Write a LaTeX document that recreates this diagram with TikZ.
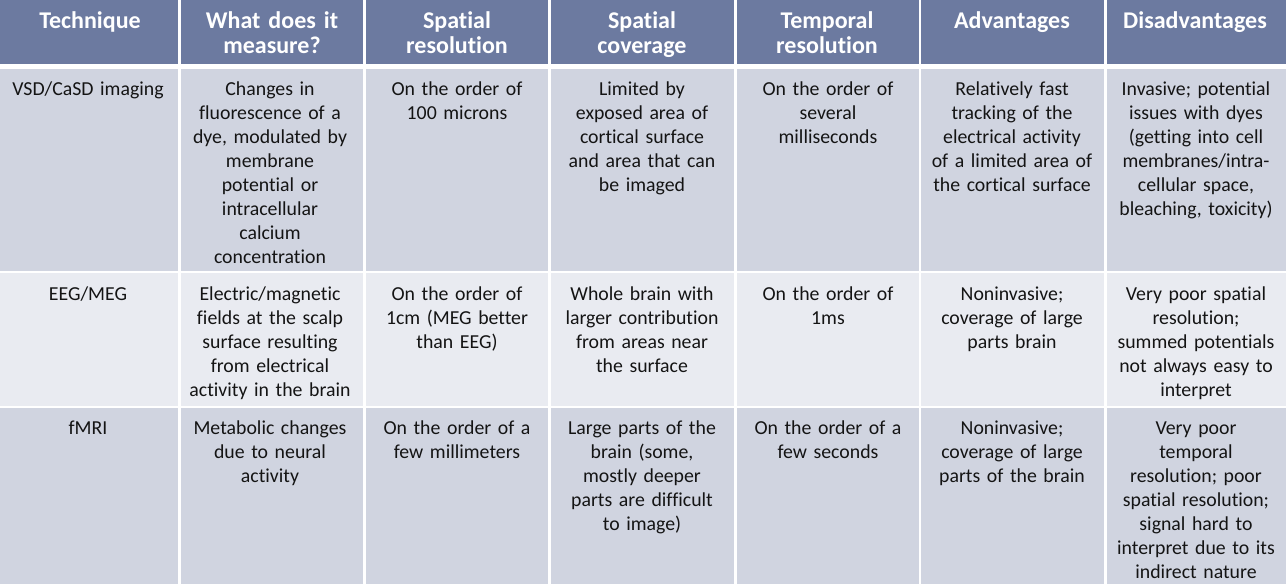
\documentclass[tikz,border=0pt]{standalone}
\usepackage{fontspec}
\setmainfont{Carlito}[Ligatures=NoCommon]
\usepackage{tikz}

\definecolor{headblue}{RGB}{108,122,160}
\definecolor{rowdark}{RGB}{208,212,224}
\definecolor{rowlight}{RGB}{233,235,241}
\definecolor{inktext}{RGB}{20,20,20}

\tikzset{
  hcell/.style={anchor=base, inner sep=0pt, text width=178pt, align=center,
    text=white, font=\fontsize{24}{25}\selectfont\bfseries},
  bcell/.style={anchor=base, inner sep=0pt, text width=178pt, align=center,
    text=inktext, font=\fontsize{19.8}{24}\selectfont},
  rule/.style={draw=white, line width=2.5pt}
}

\begin{document}
\begin{tikzpicture}[x=1pt, y=-1pt]
        \useasboundingbox (0,0) rectangle (1286,584);
        % backgrounds
        \fill[headblue] (0,0) rectangle (1286,66);
        \fill[rowdark] (0,66) rectangle (1286,272);
        \fill[rowlight] (0,272) rectangle (1286,407);
        \fill[rowdark] (0,407) rectangle (1286,584);
        \draw[draw=white, line width=5.5pt] (0,66.3) -- (1286,66.3);
        \draw[rule] (0,272) -- (1286,272);
        \draw[rule] (0,407) -- (1286,407);
        \foreach \x in {179.5,364.5,549.5,735.5,920,1105.5}
          \draw[rule] (\x,0) -- (\x,584);

        % header
        \node[hcell] (tech-h) at (90,28) {Technique};
        \node[hcell] (meas-h) at (272,28) {What does it\\measure?};
        \node[hcell] (sres-h) at (457,28) {Spatial\\resolution};
        \node[hcell] (scov-h) at (642,28) {Spatial\\coverage};
        \node[hcell] (tres-h) at (827,28) {Temporal\\resolution};
        \node[hcell] (adv-h) at (1012,28) {Advantages};
        \node[hcell] (dis-h) at (1195,28) {Disadvantages};

        % VSD/CaSD
        \node[bcell] (tech-a) at (88,95) {VSD/CaSD imaging};
        \node[bcell] (meas-a) at (270,95) {Changes in\\fluorescence of a\\dye, modulated by\\membrane\\potential or\\intracellular\\calcium\\concentration};
        \node[bcell] (sres-a) at (457,95) {On the order of\\100 microns};
        \node[bcell] (scov-a) at (642,95) {Limited by\\exposed area of\\cortical surface\\and area that can\\be imaged};
        \node[bcell] (tres-a) at (828,95) {On the order of\\several\\milliseconds};
        \node[bcell] (adv-a) at (1012,95) {Relatively fast\\tracking of the\\electrical activity\\of a limited area of\\the cortical surface};
        \node[bcell] (dis-a) at (1196,95) {Invasive; potential\\issues with dyes\\(getting into cell\\membranes/intra-\\cellular space,\\bleaching, toxicity)};

        % EEG/MEG
        \node[bcell] (tech-b) at (88,300) {EEG/MEG};
        \node[bcell] (meas-b) at (270,300) {Electric/magnetic\\fields at the scalp\\surface resulting\\from electrical\\activity in the brain};
        \node[bcell] (sres-b) at (457,300) {On the order of\\1cm (MEG better\\than EEG)};
        \node[bcell] (scov-b) at (642,300) {Whole brain with\\larger contribution\\from areas near\\the surface};
        \node[bcell] (tres-b) at (828,300) {On the order of\\1ms};
        \node[bcell] (adv-b) at (1012,300) {Noninvasive;\\coverage of large\\parts brain};
        \node[bcell] (dis-b) at (1196,300) {Very poor spatial\\resolution;\\summed potentials\\not always easy to\\interpret};

        % fMRI
        \node[bcell] (tech-c) at (88,434) {fMRI};
        \node[bcell] (meas-c) at (270,434) {Metabolic changes\\due to neural\\activity};
        \node[bcell] (sres-c) at (457,434) {On the order of a\\few millimeters};
        \node[bcell] (scov-c) at (642,434) {Large parts of the\\brain (some,\\mostly deeper\\parts are difficult\\to image)};
        \node[bcell] (tres-c) at (828,434) {On the order of a\\few seconds};
        \node[bcell] (adv-c) at (1012,434) {Noninvasive;\\coverage of large\\parts of the brain};
        \node[bcell] (dis-c) at (1196,434) {Very poor\\temporal\\resolution; poor\\spatial resolution;\\signal hard to\\interpret due to its\\indirect nature};
      \end{tikzpicture}
\end{document}
